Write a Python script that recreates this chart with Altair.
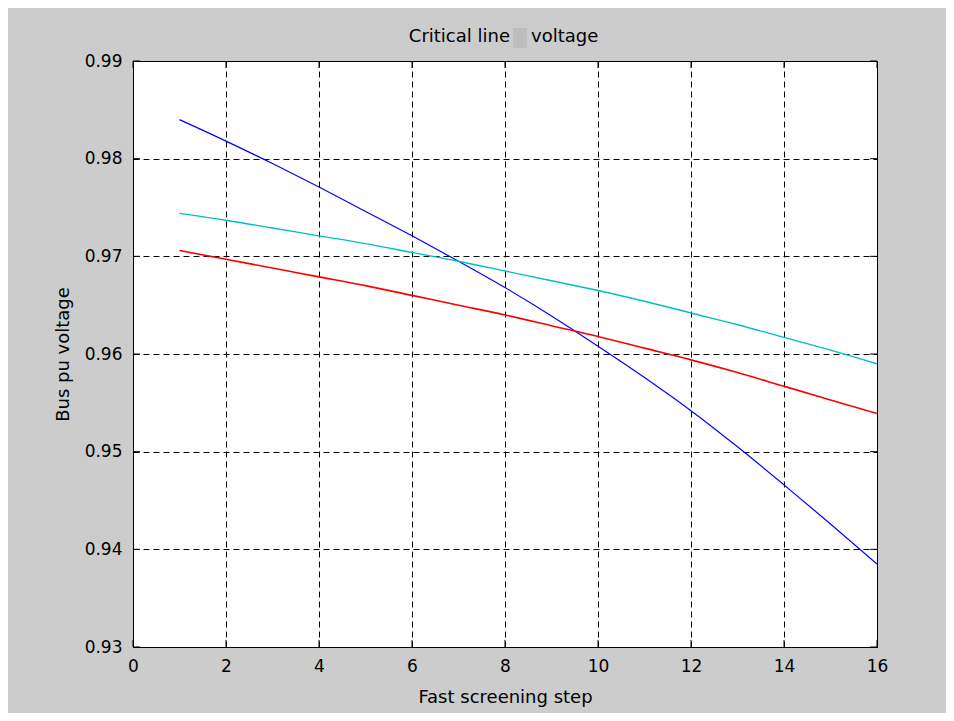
import altair as alt
import pandas as pd

steps = list(range(1, 17))
blue_vals = [0.9840, 0.9818, 0.9795, 0.9771, 0.9746, 0.9721, 0.9695, 0.9668,
             0.9639, 0.9608, 0.9576, 0.9542, 0.9505, 0.9466, 0.9426, 0.9385]
cyan_vals = [0.9744, 0.9737, 0.9729, 0.9721, 0.9713, 0.9704, 0.9695, 0.9685,
             0.9675, 0.9665, 0.9654, 0.9642, 0.9630, 0.9617, 0.9604, 0.9590]
red_vals = [0.9706, 0.9697, 0.9688, 0.9679, 0.9670, 0.9660, 0.9650, 0.9640,
            0.9629, 0.9618, 0.9606, 0.9594, 0.9581, 0.9567, 0.9553, 0.9539]
series_names = ["blue", "cyan", "red"]
series_colors = ["#0000ff", "#00bfbf", "#ff0000"]
x_ticks = [0, 2, 4, 6, 8, 10, 12, 14, 16]
y_ticks = [0.93, 0.94, 0.95, 0.96, 0.97, 0.98, 0.99]
title_left = "Critical line"
title_right = "voltage"

W, H = 744, 586

rows = []
for name, vals in zip(series_names, [blue_vals, cyan_vals, red_vals]):
    for s, v in zip(steps, vals):
        rows.append({"step": s, "value": v, "series": name})
df = pd.DataFrame(rows)

xscale = alt.Scale(domain=[0, 16], nice=False, zero=False)
yscale = alt.Scale(domain=[0.93, 0.99], nice=False, zero=False)

font = "DejaVu Sans"

xaxis = alt.Axis(values=x_ticks, grid=True, gridColor="#000000", gridDash=[6, 4],
                 gridOpacity=1, gridWidth=1, ticks=False, domainColor="#000000",
                 labelFont=font, labelFontSize=17, labelColor="#000000", labelPadding=11,
                 title="Fast screening step", titleFont=font, titleFontSize=18,
                 titleFontWeight="normal", titleColor="#000000", titlePadding=14,
                 labelFlush=False)
yaxis = alt.Axis(values=y_ticks, grid=True, gridColor="#000000", gridDash=[6, 4],
                 gridOpacity=1, gridWidth=1, ticks=False, domainColor="#000000",
                 labelFont=font, labelFontSize=17, labelColor="#000000", labelPadding=11,
                 format=".2f", title="Bus pu voltage", titleFont=font, titleFontSize=18,
                 titleFontWeight="normal", titleColor="#000000", titlePadding=12,
                 labelFlush=False)

lines = alt.Chart(df).mark_line(clip=True, interpolate="monotone").encode(
    x=alt.X("step:Q", scale=xscale, axis=xaxis),
    y=alt.Y("value:Q", scale=yscale, axis=yaxis),
    color=alt.Color("series:N", scale=alt.Scale(domain=series_names, range=series_colors), legend=None),
    strokeWidth=alt.StrokeWidth("series:N", scale=alt.Scale(domain=series_names, range=[1.2, 1.6, 1.6]), legend=None),
)

xt = pd.DataFrame({"t": x_ticks})
yt = pd.DataFrame({"t": y_ticks})
tick_bottom = alt.Chart(xt).mark_rule(color="#000000").encode(
    x=alt.X("t:Q", scale=xscale), y=alt.value(H), y2=alt.value(H - 7))
tick_top = alt.Chart(xt).mark_rule(color="#000000").encode(
    x=alt.X("t:Q", scale=xscale), y=alt.value(0), y2=alt.value(7))
tick_left = alt.Chart(yt).mark_rule(color="#000000").encode(
    y=alt.Y("t:Q", scale=yscale), x=alt.value(0), x2=alt.value(7))
tick_right = alt.Chart(yt).mark_rule(color="#000000").encode(
    y=alt.Y("t:Q", scale=yscale), x=alt.value(W), x2=alt.value(W - 7))

title_a = alt.Chart(pd.DataFrame({"label": [title_left]})).mark_text(
    font=font, fontSize=18, color="#000000", align="right", baseline="middle"
).encode(text="label:N", x=alt.value(377), y=alt.value(-24))
title_b = alt.Chart(pd.DataFrame({"label": [title_right]})).mark_text(
    font=font, fontSize=18, color="#000000", align="left", baseline="middle"
).encode(text="label:N", x=alt.value(398), y=alt.value(-24))

box = alt.Chart(pd.DataFrame({"k": [0]})).mark_rect(color="#bdbdbd").encode(
    x=alt.value(380), x2=alt.value(394), y=alt.value(-33), y2=alt.value(-13))

chart = alt.layer(lines, tick_bottom, tick_top, tick_left, tick_right, title_a, title_b, box).properties(
    width=W, height=H,
    padding={"left": 125, "top": 53, "right": 69, "bottom": 66},
    autosize=alt.AutoSizeParams(type="none"),
    background="#cccccc",
).configure_view(stroke="#000000", strokeWidth=1, fill="#ffffff")

chart.save("out.html", embed_options={"renderer": "svg", "actions": False})
